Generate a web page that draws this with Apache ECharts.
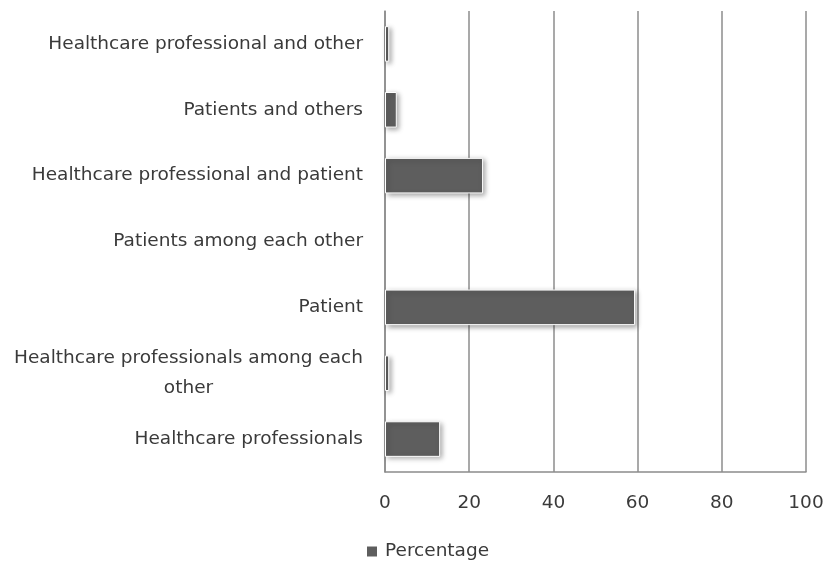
<!DOCTYPE html>
<html>
<head>
<meta charset="utf-8">
<script src="https://cdn.jsdelivr.net/npm/echarts@6/dist/echarts.min.js"></script>
<style>
  html, body { margin: 0; padding: 0; background: #fff; }
  #chart { width: 827px; height: 564px; }
</style>
</head>
<body>
<div id="chart"></div>
<script>
// Categories listed bottom to top, as drawn on the category axis
const categories = [
  'Healthcare professionals',
  'Healthcare professionals among each other',
  'Patient',
  'Patients among each other',
  'Healthcare professional and patient',
  'Patients and others',
  'Healthcare professional and other'
];
const percentage = [13.1, 1, 59.4, 0, 23.3, 2.8, 1];
const xTicks = [0, 20, 40, 60, 80, 100];

const FONT = '"DejaVu Sans", sans-serif';
const FONT_SIZE = 18.5;
const AXIS_GREY = '#8c8c8c';
const TEXT = '#3a3a3a';
const BAR = '#5e5e5e';
const LABEL_MAX_WIDTH = 352;

// word-wrap a category name to the available label width
const measureCtx = document.createElement('canvas').getContext('2d');
measureCtx.font = FONT_SIZE + 'px ' + FONT;
function wrapLabel(text) {
  const words = text.split(' ');
  const lines = [];
  let line = '';
  words.forEach(w => {
    const trial = line ? line + ' ' + w : w;
    if (line && measureCtx.measureText(trial).width > LABEL_MAX_WIDTH) {
      lines.push(line);
      line = w;
    } else {
      line = trial;
    }
  });
  if (line) lines.push(line);
  // each line is centred under the longest one
  return lines.map(l => '{c|' + l + '}').join('\n');
}

const barStyle = {
  color: BAR,
  borderColor: '#ffffff',
  borderWidth: 1,
  shadowColor: 'rgba(0,0,0,0.35)',
  shadowBlur: 5,
  shadowOffsetX: 2,
  shadowOffsetY: 2
};

// zero-valued rows get no outline or shadow so nothing shows
const barData = percentage.map(v => v === 0
  ? { value: v, itemStyle: { borderWidth: 0, shadowBlur: 0, shadowOffsetX: 0, shadowOffsetY: 0, shadowColor: 'transparent' } }
  : { value: v });

const chart = echarts.init(document.getElementById('chart'), null, { renderer: 'canvas' });

chart.setOption({
  animation: false,
  backgroundColor: '#ffffff',
  grid: { left: 385, right: 21, top: 11, bottom: 92, containLabel: false },
  legend: {
    data: ['Percentage'],
    bottom: -2,
    left: 362,
    icon: 'rect',
    itemWidth: 10,
    itemHeight: 10,
    itemGap: 6,
    itemStyle: { color: BAR, borderWidth: 0, shadowBlur: 0, shadowOffsetX: 0, shadowOffsetY: 0 },
    textStyle: { fontFamily: FONT, fontSize: FONT_SIZE, color: TEXT, padding: [0, 0, 0, 3] }
  },
  xAxis: {
    type: 'value',
    min: xTicks[0],
    max: xTicks[xTicks.length - 1],
    interval: xTicks[1] - xTicks[0],
    axisLine: { show: true, lineStyle: { color: AXIS_GREY, width: 1.5 } },
    axisTick: { show: false },
    axisLabel: { fontFamily: FONT, fontSize: FONT_SIZE, color: TEXT, margin: 22 },
    splitLine: { show: true, lineStyle: { color: AXIS_GREY, width: 1.5 } }
  },
  yAxis: {
    type: 'category',
    data: categories,
    axisLine: { show: true, lineStyle: { color: AXIS_GREY, width: 1.5 } },
    axisTick: { show: false },
    axisLabel: {
      margin: 22,
      align: 'right',
      formatter: wrapLabel,
      rich: {
        c: {
          fontFamily: FONT,
          fontSize: FONT_SIZE,
          color: TEXT,
          lineHeight: 30,
          align: 'center'
        }
      }
    }
  },
  series: [{
    name: 'Percentage',
    type: 'bar',
    data: barData,
    barCategoryGap: '46%',
    itemStyle: barStyle
  }]
});
</script>
</body>
</html>
